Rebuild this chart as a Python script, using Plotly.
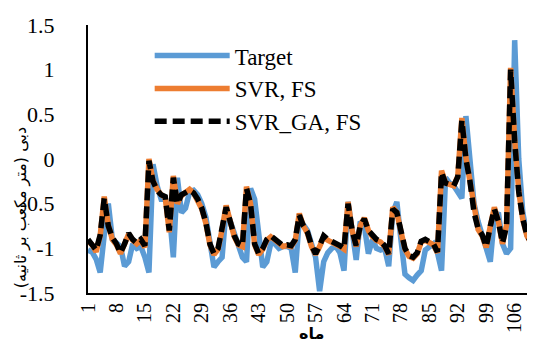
import plotly.graph_objects as go

months = list(range(1, 112))

target = [-1.02, -1.04, -1.12, -1.27, -0.85, -0.50, -0.90, -0.95, -0.98, -1.20,
          -1.15, -0.95, -1.00, -0.98, -1.10, -1.27, -0.06, -0.30, -0.45, -0.45,
          -0.60, -1.10, -0.21, -0.60, -0.55, -0.37, -0.35, -0.40, -0.50, -0.65,
          -0.90, -1.21, -1.15, -1.10, -0.56, -0.70, -0.85, -0.98, -1.10, -1.15,
          -0.33, -0.45, -0.90, -1.21, -1.15, -0.94, -0.95, -1.00, -0.98, -0.98,
          -1.00, -1.27, -0.67, -0.75, -0.80, -0.95, -1.10, -1.48, -1.15, -1.05,
          -1.00, -0.98, -1.05, -1.25, -0.48, -0.80, -1.13, -0.70, -0.75, -1.06,
          -0.90, -1.00, -1.02, -1.00, -1.20, -0.60, -0.48, -0.90, -1.29, -1.33,
          -1.36, -1.30, -1.25, -1.02, -0.98, -0.95, -1.05, -1.25, -0.21, -0.27,
          -0.30, -0.38, -0.44, 0.48, 0.05, -0.50, -0.70, -0.85, -1.00, -1.15,
          -0.65, -0.60, -0.95, -1.06, -1.00, 1.33, 0.00, -0.60, -0.85, -0.95,
          -1.02]

svr_fs = [-0.92, -0.96, -1.04, -0.86, -0.42, -0.74, -0.90, -0.96, -1.06, -0.96,
          -0.84, -0.91, -0.95, -0.91, -0.99, 0.00, -0.24, -0.34, -0.40, -0.43,
          -0.82, -0.19, -0.50, -0.41, -0.37, -0.34, -0.38, -0.46, -0.56, -0.72,
          -0.96, -1.07, -1.01, -0.79, -0.52, -0.70, -0.87, -0.96, -0.98, -0.31,
          -0.50, -0.96, -1.07, -1.01, -0.91, -0.87, -0.91, -0.94, -0.98, -0.97,
          -0.98, -0.91, -0.61, -0.75, -0.83, -0.98, -1.07, -0.98, -0.87, -0.91,
          -0.93, -0.96, -0.98, -1.01, -0.48, -0.80, -0.98, -0.75, -0.66, -0.80,
          -0.87, -0.91, -0.93, -0.98, -1.07, -0.54, -0.60, -0.81, -1.01, -1.09,
          -1.11, -1.06, -0.93, -0.91, -0.93, -0.96, -1.05, -0.13, -0.27, -0.29,
          -0.30, -0.19, 0.46, 0.02, -0.25, -0.60, -0.79, -0.86, -0.99, -0.75,
          -0.54, -0.70, -0.95, -0.74, 1.02, 0.22, -0.36, -0.68, -0.86, -0.94,
          -1.00]

svr_ga_fs = [-0.90, -0.95, -1.02, -0.85, -0.44, -0.75, -0.88, -0.95, -1.05, -0.95,
             -0.83, -0.90, -0.94, -0.90, -0.97, -0.02, -0.25, -0.35, -0.40, -0.42,
             -0.80, -0.21, -0.50, -0.40, -0.38, -0.35, -0.38, -0.45, -0.55, -0.71,
             -0.95, -1.06, -1.00, -0.80, -0.54, -0.70, -0.86, -0.95, -0.97, -0.33,
             -0.50, -0.95, -1.06, -1.00, -0.90, -0.86, -0.90, -0.93, -0.97, -0.96,
             -0.97, -0.90, -0.63, -0.75, -0.82, -0.97, -1.06, -0.97, -0.86, -0.90,
             -0.92, -0.95, -0.97, -1.00, -0.50, -0.80, -0.97, -0.75, -0.67, -0.80,
             -0.86, -0.90, -0.92, -0.97, -1.06, -0.56, -0.60, -0.80, -1.00, -1.08,
             -1.10, -1.05, -0.92, -0.90, -0.92, -0.95, -1.04, -0.15, -0.27, -0.29,
             -0.30, -0.20, 0.43, 0.00, -0.25, -0.60, -0.78, -0.85, -0.98, -0.75,
             -0.56, -0.70, -0.94, -0.75, 1.00, 0.20, -0.37, -0.67, -0.85, -0.93,
             -0.99]

x_tickvals = list(range(1, 112, 7))
x_ticktext = [str(v) for v in x_tickvals]
y_tickvals = [-1.5, -1.0, -0.5, 0.0, 0.5, 1.0, 1.5]
y_ticktext = ["-1.5", "-1", "-0.5", "0", "0.5", "1", "1.5"]

serif = "Liberation Serif"

fig = go.Figure()
fig.add_trace(go.Scatter(x=months, y=target, mode="lines", name="Target",
                         line=dict(color="#5B9BD5", width=5.5)))
fig.add_trace(go.Scatter(x=months, y=svr_fs, mode="lines", name="SVR, FS",
                         line=dict(color="#ED7D31", width=5.5)))
fig.add_trace(go.Scatter(x=months, y=svr_ga_fs, mode="lines", name="SVR_GA, FS",
                         line=dict(color="#000000", width=5.5, dash="12px,6px")))

# page body has an 8px default margin, so the figure is sized/margined to compensate
fig.update_layout(
    width=527, height=342,
    margin=dict(l=80, r=0, t=17, b=57),
    paper_bgcolor="white", plot_bgcolor="white",
    font=dict(family=serif, size=22, color="#000000"),
    showlegend=True,
    legend=dict(x=0.138, y=0.966, xanchor="left", yanchor="top",
                bgcolor="rgba(0,0,0,0)", font=dict(family=serif, size=23),
                itemwidth=75, tracegroupgap=0),
    xaxis=dict(range=[1, 111], tickmode="array", tickvals=x_tickvals,
               ticktext=x_ticktext, tickangle=-90, showgrid=False, zeroline=False,
               showline=True, linecolor="#000000", linewidth=2, ticks="",
               automargin=False,
               tickfont=dict(family=serif, size=20)),
    yaxis=dict(range=[-1.5, 1.5], tickmode="array", tickvals=y_tickvals,
               ticktext=y_ticktext, showgrid=False, zeroline=False,
               showline=True, linecolor="#000000", linewidth=2, ticks="",
               ticklabelstandoff=27, automargin=False,
               tickfont=dict(family=serif, size=22)),
)

fig.add_annotation(text="دبی (متر مکعب بر ثانیه)", xref="paper", yref="paper",
                   x=-0.15, y=0.32, xanchor="center", yanchor="middle",
                   textangle=-90, showarrow=False,
                   font=dict(family="DejaVu Sans", size=16, color="#000000"))

fig.add_annotation(text="<b>ماه</b>", xref="paper", yref="paper",
                   x=0.5, y=-0.15, xanchor="center", yanchor="middle",
                   showarrow=False,
                   font=dict(family="DejaVu Sans", size=16, color="#000000"))

fig.write_html("out.html")
